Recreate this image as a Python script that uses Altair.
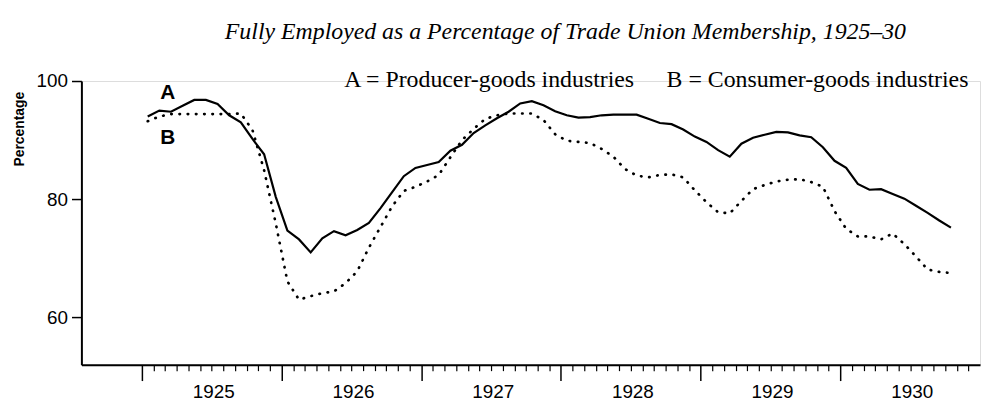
import altair as alt
import pandas as pd

# ---- data (monthly, Jan 1925 - Oct 1930) ----
start_year = 1925
producer_goods = [94.0, 95.0, 94.8, 95.8, 96.8, 96.8, 96.1, 94.2, 93.0, 90.2, 87.6, 80.4,
                  74.7, 73.2, 71.0, 73.4, 74.6, 73.9, 74.8, 76.0, 78.5, 81.2, 83.9, 85.3,
                  85.8, 86.3, 88.2, 89.2, 91.2, 92.5, 93.7, 94.8, 96.2, 96.6, 95.9, 94.9,
                  94.2, 93.8, 93.9, 94.2, 94.3, 94.3, 94.3, 93.6, 92.9, 92.7, 91.8, 90.6,
                  89.7, 88.3, 87.2, 89.4, 90.4, 90.9, 91.4, 91.3, 90.8, 90.5, 88.8, 86.5,
                  85.3, 82.6, 81.6, 81.7, 80.9, 80.1, 78.9, 77.7, 76.4, 75.2]
consumer_goods = [93.2, 94.0, 94.4, 94.4, 94.4, 94.4, 94.4, 94.4, 94.5, 91.7, 84.9, 75.9,
                  66.1, 63.0, 63.6, 64.1, 64.4, 65.8, 67.8, 71.8, 75.3, 78.8, 81.4, 82.1,
                  83.0, 84.1, 87.1, 90.0, 91.9, 93.6, 94.2, 94.5, 94.5, 94.5, 93.4, 91.0,
                  89.9, 89.7, 89.5, 88.5, 87.2, 85.1, 84.0, 83.7, 84.1, 84.2, 83.7, 81.5,
                  79.5, 77.8, 77.6, 79.7, 81.7, 82.4, 83.0, 83.3, 83.4, 82.9, 82.1, 78.0,
                  75.0, 73.7, 73.7, 73.2, 74.2, 72.4, 70.3, 68.1, 67.7, 67.5]

year_ticks = [1925, 1926, 1927, 1928, 1929, 1930]
y_ticks = [60, 80, 100]
series_labels = ["A", "B"]
legend_texts = ["A = Producer-goods industries", "B = Consumer-goods industries"]
title_text = "Fully Employed as a Percentage of Trade Union Membership, 1925\u201330"

month_ticks = [y + m / 12 for y in year_ticks for m in range(1, 12)]

df = pd.DataFrame({
    "year": [start_year + (i + 0.5) / 12 for i in range(len(producer_goods))],
    "producer": producer_goods,
    "consumer": consumer_goods,
})

SANS = "Liberation Sans"
SERIF = "Liberation Serif"

xscale = alt.Scale(domain=[1924.567, 1931.0], nice=False, zero=False)
yscale = alt.Scale(domain=[52, 100], nice=False, zero=False)

base = alt.Chart(df)

line_a = base.mark_line(color="black", strokeWidth=2.2).encode(
    x=alt.X("year:Q", scale=xscale,
            axis=alt.Axis(values=year_ticks, orient="bottom", title=None, grid=False,
                          tickSize=16, tickWidth=1.5, tickColor="black",
                          domain=True, domainColor="black", domainWidth=2,
                          format="d", labelOffset=72, labelPadding=2,
                          labelFont=SANS, labelFontSize=19, labelColor="black",
                          labelFlush=False, labelOverlap=False)),
    y=alt.Y("producer:Q", scale=yscale,
            axis=alt.Axis(values=y_ticks, title="Percentage", grid=False,
                          tickSize=10, tickWidth=1.5, tickColor="black",
                          domain=True, domainColor="black", domainWidth=2,
                          labelFont=SANS, labelFontSize=19, labelColor="black",
                          labelPadding=4,
                          titleFont=SANS, titleFontSize=14, titleFontWeight="bold",
                          titleColor="black", titleAngle=270, titleX=-62, titleY=48,
                          titleAlign="center", titleBaseline="middle")),
)

line_b = base.mark_line(color="black", strokeWidth=2.7, strokeDash=[0.5, 7.8],
                        strokeCap="round").encode(
    x=alt.X("year:Q", scale=xscale,
            axis=alt.Axis(values=month_ticks, orient="bottom", title=None, grid=False,
                          tickSize=6, tickWidth=1.2, tickColor="black",
                          domain=False, labels=False)),
    y=alt.Y("consumer:Q", scale=yscale, axis=None),
)

one = pd.DataFrame({"k": [0]})

label_a = alt.Chart(one).mark_text(text=series_labels[0], font=SANS, fontSize=21,
                                   fontWeight="bold", color="black", align="center",
                                   baseline="middle").encode(
    x=alt.value(87), y=alt.value(12))
label_b = alt.Chart(one).mark_text(text=series_labels[1], font=SANS, fontSize=21,
                                   fontWeight="bold", color="black", align="center",
                                   baseline="middle").encode(
    x=alt.value(87), y=alt.value(57))
legend_a = alt.Chart(one).mark_text(text=legend_texts[0], font=SERIF, fontSize=24,
                                    color="black", align="left",
                                    baseline="alphabetic").encode(
    x=alt.value(265), y=alt.value(6))
legend_b = alt.Chart(one).mark_text(text=legend_texts[1], font=SERIF, fontSize=24,
                                    color="black", align="left",
                                    baseline="alphabetic").encode(
    x=alt.value(590), y=alt.value(6))

chart = alt.layer(line_a, line_b, label_a, label_b, legend_a, legend_b).resolve_axis(
    x="independent", y="independent"
).properties(
    width=906, height=286,
    autosize=alt.AutoSizeParams(type="none"),
    padding={"left": 74, "top": 72, "right": 4, "bottom": 36},
    title=alt.TitleParams(text=title_text, font=SERIF, fontStyle="italic",
                          fontSize=24, fontWeight="normal", color="black",
                          anchor="middle", frame="group", dx=35, offset=24),
).configure_view(stroke=None).configure(background="white")

chart.save("out.html", embed_options={"renderer": "svg", "actions": False})
